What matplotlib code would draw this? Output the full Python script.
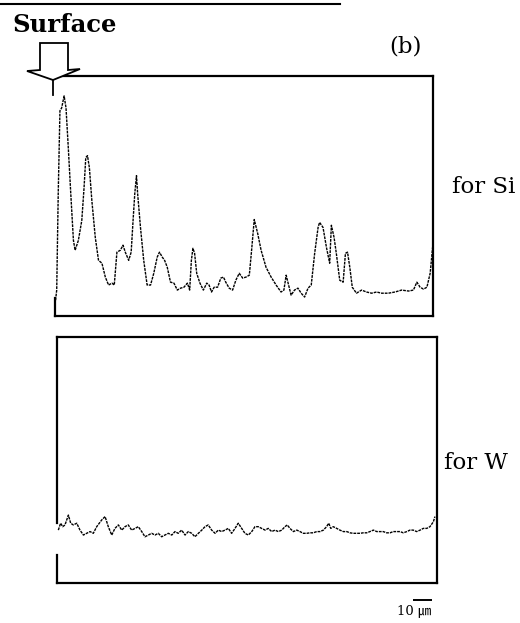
import matplotlib
matplotlib.use("Agg")
import matplotlib.pyplot as plt
from matplotlib.patches import Polygon
from matplotlib.lines import Line2D

# ---- Data: line-scan profiles (depth from surface in um, intensity in a.u.) ----
si_depth = [0.3, 0.9, 1.7, 2.6, 3.5, 4.8, 5.8, 7.0, 8.3, 9.7, 10.6, 12.3, 14.1, 15.3,
            16.2, 17.1, 18.1, 19.4, 21.2, 22.9, 24.7, 26.5, 28.2, 30.0, 31.2, 32.6,
            34.4, 35.8, 37.0, 38.8, 40.1, 41.1, 42.0, 42.9, 43.5, 45.0, 46.7, 48.5,
            50.3, 52.0, 53.8, 55.0, 56.5, 57.7, 59.1, 60.8, 62.6, 64.4, 66.1, 67.9,
            69.7, 70.9, 71.8, 72.6, 73.5, 74.6, 76.3, 78.1, 79.9, 81.1, 82.4, 83.8,
            85.6, 87.3, 88.7, 89.9, 91.7, 93.5, 95.2, 97.0, 98.8, 100.5, 102.3, 103.5,
            104.9, 106.7, 108.5, 111.1, 113.8, 116.4, 119.0, 120.5, 121.7, 122.6,
            124.3, 126.1, 127.9, 129.6, 131.4, 133.2, 134.9, 136.7, 138.5, 139.3,
            141.1, 142.9, 144.6, 145.5, 146.9, 148.1, 149.9, 151.7, 152.9, 154.0,
            155.2, 156.5, 158.7, 161.4, 164.0, 166.7, 169.3, 172.0, 175.5, 179.0,
            182.5, 186.1, 188.7, 190.5, 192.2, 194.0, 195.8, 197.5, 198.8, 199.5]
si_intensity = [6.6, 10.8, 51.0, 85.5, 86.7, 91.7, 86.7, 70.1, 51.0, 31.5, 27.4, 31.5,
                39.8, 53.5, 66.0, 66.8, 61.8, 48.1, 32.8, 23.2, 22.0, 16.2, 12.9, 13.7,
                12.9, 26.6, 27.4, 29.5, 26.6, 23.2, 26.6, 39.8, 51.0, 58.5, 51.0, 36.9,
                23.2, 12.9, 12.9, 17.8, 24.5, 26.6, 24.5, 23.2, 20.3, 14.1, 13.7, 10.8,
                11.6, 12.0, 13.7, 10.8, 23.2, 28.2, 26.1, 17.8, 13.7, 10.8, 13.7, 12.9,
                10.0, 12.0, 12.0, 15.8, 16.2, 14.1, 11.6, 10.8, 14.9, 17.8, 15.8, 16.2,
                17.0, 27.4, 40.2, 34.4, 27.4, 20.3, 16.2, 12.9, 10.0, 10.8, 17.0, 14.1,
                8.7, 10.8, 11.6, 9.5, 7.9, 11.6, 12.9, 26.1, 36.9, 39.0, 36.9, 28.6,
                22.0, 37.8, 32.8, 26.1, 14.9, 14.1, 26.1, 26.6, 20.3, 12.0, 9.5, 10.8,
                10.0, 9.5, 10.0, 9.5, 9.5, 10.0, 10.8, 10.4, 10.8, 14.1, 12.0, 11.2,
                12.0, 17.8, 28.6, 31.5]

w_depth = [0.7, 1.9, 3.0, 4.2, 6.0, 7.2, 8.6, 10.4, 12.1, 13.9, 15.6, 17.4, 19.1, 20.9,
           23.5, 25.3, 27.0, 28.8, 30.5, 32.3, 34.1, 35.8, 37.5, 39.3, 41.1, 42.8,
           44.6, 46.3, 48.1, 49.8, 51.6, 53.3, 55.1, 56.8, 58.6, 60.4, 62.1, 63.8,
           65.6, 67.4, 69.1, 70.9, 72.6, 74.4, 76.2, 77.9, 79.6, 81.4, 83.2, 84.9,
           86.7, 88.4, 90.2, 91.9, 93.7, 95.4, 97.2, 98.9, 100.7, 102.5, 104.2, 105.9,
           107.7, 109.5, 111.2, 113.0, 114.7, 116.5, 118.3, 120.0, 121.2, 122.6,
           124.4, 126.2, 127.9, 129.6, 131.4, 133.2, 134.9, 136.7, 138.4, 140.2,
           141.9, 143.0, 144.1, 145.4, 147.2, 148.9, 150.7, 152.5, 154.2, 155.9,
           157.7, 159.5, 161.2, 163.0, 164.7, 166.5, 168.3, 170.0, 171.7, 173.5,
           175.3, 177.0, 178.8, 180.5, 182.3, 184.1, 185.8, 187.5, 189.3, 191.1,
           192.8, 194.6, 196.3, 198.1, 198.9]
w_intensity = [21.5, 24.3, 22.9, 23.6, 27.6, 24.3, 23.6, 24.3, 21.5, 19.5, 20.2, 20.9,
               20.2, 22.9, 25.6, 27.0, 22.9, 19.5, 22.2, 23.6, 21.5, 22.9, 23.6, 21.5,
               22.2, 22.9, 20.9, 18.8, 19.5, 20.2, 19.5, 20.2, 18.8, 19.5, 20.2, 19.5,
               20.9, 20.2, 21.5, 19.5, 20.9, 20.2, 18.8, 20.2, 21.5, 22.9, 23.6, 21.5,
               20.2, 21.5, 20.9, 21.5, 22.2, 20.2, 22.2, 24.3, 22.2, 20.2, 19.5, 20.9,
               22.9, 22.9, 22.2, 21.5, 22.2, 20.9, 21.5, 20.9, 21.5, 22.9, 23.6, 22.2,
               20.9, 21.5, 20.9, 20.2, 20.2, 20.4, 20.4, 20.9, 20.9, 21.5, 22.9, 24.3,
               22.2, 22.9, 22.2, 21.5, 20.9, 20.9, 20.4, 20.2, 20.2, 20.2, 20.4, 20.4,
               20.9, 21.5, 20.9, 20.9, 20.9, 20.4, 20.4, 20.9, 20.9, 20.9, 20.4, 20.9,
               21.5, 21.5, 20.9, 21.5, 22.2, 22.2, 22.9, 24.9, 27.0]

panel_labels = ["for Si", "for W"]
scale_bar_um = 10

W, H = 520, 623
fig = plt.figure(figsize=(W / 100, H / 100), dpi=100)
fig.patch.set_facecolor("white")

def px(x, y):
    return (x / W, 1 - y / H)

serif = ["DejaVu Serif"]

ax1 = fig.add_axes([55 / W, 1 - 316 / H, 378 / W, 240 / H])
ax2 = fig.add_axes([57 / W, 1 - 583 / H, 380 / W, 246 / H])

trace_style = dict(color="black", lw=1.0, linestyle=(0, (2.0, 0.7)))
ax1.plot(si_depth, si_intensity, **trace_style)
ax2.plot(w_depth, w_intensity, **trace_style)

ax1.set_xlim(0, 199)
ax1.set_ylim(0, 100)
ax2.set_xlim(0, 200)
ax2.set_ylim(0, 100)

for ax in (ax1, ax2):
    ax.set_xticks([])
    ax.set_yticks([])
    for s in ax.spines.values():
        s.set_linewidth(1.6)
        s.set_color("black")
    ax.spines["left"].set_visible(False)

# partial left edges (the scanned frame is broken where the trace meets it)
ax1.axvline(0, 0, 0.075, color="black", lw=1.6, clip_on=False)
ax2.axvline(0, 0.245, 1.0, color="black", lw=1.6, clip_on=False)
ax2.axvline(0, 0.0, 0.115, color="black", lw=1.6, clip_on=False)

# scale bar (10 um) under the lower panel
sb_end = 197.4
ax2.plot([sb_end - scale_bar_um, sb_end], [-7, -7], color="black", lw=1.4,
         clip_on=False, solid_capstyle="butt")
fig.text(*px(414, 611), "10 \u339b", family=["DejaVu Serif", "Noto Sans CJK JP"],
         fontsize=9.5, ha="center", va="center")

# Labels
fig.text(*px(12, 25), "Surface", family=serif, fontweight="bold", fontsize=17.5,
         ha="left", va="center")
fig.text(*px(405, 47), "(b)", family=serif, fontsize=16.5, ha="center", va="center")
fig.text(*px(452, 187), panel_labels[0], family=serif, fontsize=16.5, ha="left", va="center")
fig.text(*px(444, 463), panel_labels[1], family=serif, fontsize=16.5, ha="left", va="center")

# Hollow "surface" arrow
arrow_pts = [px(40, 43), px(68, 43), px(68, 70), px(80, 69), px(53, 80),
             px(27, 71), px(40, 70)]
fig.patches.append(Polygon(arrow_pts, closed=True, facecolor="white",
                           edgecolor="black", lw=1.3, transform=fig.transFigure))
fig.lines.append(Line2D([53 / W, 53 / W], [1 - 80 / H, 1 - 95 / H], color="black",
                        lw=1.3, transform=fig.transFigure))
# top rule line of the page
fig.lines.append(Line2D([0, 340 / W], [1 - 4 / H, 1 - 4 / H], color="black",
                        lw=1.5, transform=fig.transFigure))

fig.savefig("out.png", dpi=100, facecolor="white")
